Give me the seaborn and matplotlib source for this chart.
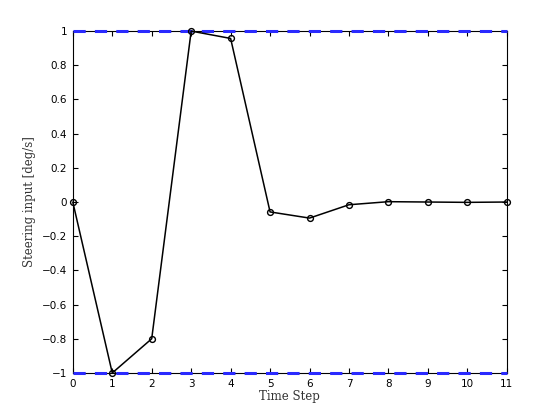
import numpy as np
import pandas as pd
import seaborn as sns
import matplotlib
matplotlib.use("Agg")
import matplotlib.pyplot as plt

time_step = [0, 1, 2, 3, 4, 5, 6, 7, 8, 9, 10, 11]
steering = [0.0, -1.0, -0.80, 1.0, 0.957, -0.058, -0.094, -0.016, 0.002, 0.0, -0.002, 0.0]
upper_bound = [1.0] * len(time_step)
lower_bound = [-1.0] * len(time_step)
x_ticks = list(range(0, 12))
y_ticks = [-1, -0.8, -0.6, -0.4, -0.2, 0, 0.2, 0.4, 0.6, 0.8, 1]
y_tick_labels = ["\u22121", "\u22120.8", "\u22120.6", "\u22120.4", "\u22120.2", "0", "0.2", "0.4", "0.6", "0.8", "1"]

sns.set_style("ticks", {"xtick.direction": "in", "ytick.direction": "in"})
plt.rcParams["font.family"] = ["DejaVu Sans"]

df = pd.DataFrame({"t": time_step, "u": steering, "ub": upper_bound, "lb": lower_bound})

fig = plt.figure(figsize=(5.6, 4.2), dpi=100)
ax = fig.add_axes([0.13, 0.112, 0.775, 0.814])

sns.lineplot(data=df, x="t", y="ub", ax=ax, color="#2a2aff", linewidth=2.2,
             linestyle=(0, (4, 3)), zorder=5, clip_on=False)
sns.lineplot(data=df, x="t", y="lb", ax=ax, color="#2a2aff", linewidth=2.2,
             linestyle=(0, (4, 3)), zorder=5, clip_on=False)
sns.lineplot(data=df, x="t", y="u", ax=ax, color="black", linewidth=1.1,
             marker="o", markersize=4.2, markerfacecolor="none",
             markeredgecolor="black", markeredgewidth=1.0, zorder=6, clip_on=False)

ax.set_xlim(0, 11)
ax.set_ylim(-1, 1)
ax.set_xticks(x_ticks)
ax.set_yticks(y_ticks)
ax.set_yticklabels(y_tick_labels)
ax.tick_params(axis="both", which="both", direction="in", top=True, right=True,
               labelsize=7.5, length=3.5, width=0.8, colors="black", pad=4)
for s in ax.spines.values():
    s.set_visible(True)
    s.set_linewidth(0.8)
    s.set_color("black")
    s.set_zorder(2)

ax.set_xlabel("Time Step", fontfamily="DejaVu Serif", fontsize=8.5, labelpad=1, color="#333333")
ax.set_ylabel("Steering input [deg/s]", fontfamily="DejaVu Serif", fontsize=8.5, labelpad=4, color="#333333")

fig.savefig("out.png", dpi=100)
